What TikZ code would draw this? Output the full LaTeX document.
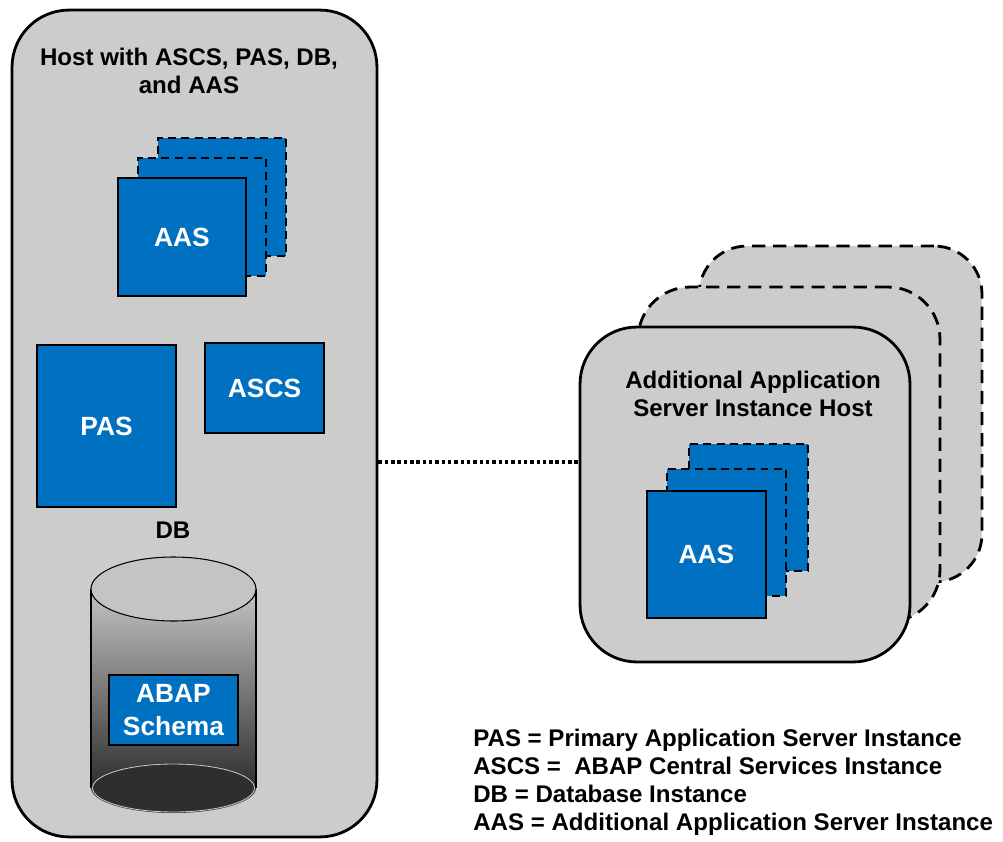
\documentclass[tikz,border=0pt]{standalone}
\usepackage{fontspec}
\setmainfont{Liberation Sans}
\usepackage{tikz}
\usetikzlibrary{positioning,calc}
\definecolor{sapblue}{HTML}{0070C0}
\definecolor{hostgrey}{HTML}{CCCCCC}
\definecolor{dbtop}{HTML}{C4C4C4}
\definecolor{dbdark}{HTML}{2E2E2E}

\begin{document}
\begin{tikzpicture}[x=0.02cm, y=-0.02cm,
    hostbox/.style={draw, fill=hostgrey, line width=1.6pt, inner sep=0pt},
    hostdash/.style={hostbox, dash pattern=on 7.5pt off 4.5pt},
    instbox/.style={draw, fill=sapblue, line width=1.1pt, inner sep=0pt, text=white,
        font=\fontsize{15}{18.5}\selectfont\bfseries, align=center},
    instdash/.style={instbox, dash pattern=on 4.5pt off 3pt},
    captext/.style={font=\fontsize{13.7}{16}\selectfont\bfseries, align=center, inner sep=0pt},
    linkline/.style={line width=2.2pt, dash pattern=on 2pt off 1.6pt}]
    \useasboundingbox (0,0) rectangle (1003,841);

    % Host with ASCS, PAS, DB and AAS
    \node[hostbox, rounded corners=1.14cm, minimum width=7.3cm, minimum height=16.54cm] (mainHost) at (194.5,423.5) {};
    \node[captext] (mainTitle) at (189,71) {Host with ASCS, PAS, DB,\\and AAS};

    % AAS stack
    \node[instdash, minimum width=2.56cm, minimum height=2.36cm] (aasBackL) at (222,197) {};
    \node[instdash, minimum width=2.56cm, minimum height=2.36cm] (aasMidL) at (202,217) {};
    \node[instbox, minimum width=2.56cm, minimum height=2.36cm] (aasL) at (182,237) {AAS};

    % PAS and ASCS
    \node[instbox, minimum width=2.78cm, minimum height=3.24cm] (pas) at (106.5,426) {PAS};
    \node[instbox, minimum width=2.38cm, minimum height=1.8cm] (ascs) at (264.5,388) {ASCS};

    % Database
    \node[captext] (dbLabel) at (173,530) {DB};
    \shade[top color=dbtop, bottom color=dbdark] (91,589) rectangle (256,788);
    \fill[dbdark] (173.5,788) ellipse [x radius=82.5, y radius=25];
    \draw[gray!45, line width=0.5pt] (173.5,788) ellipse [x radius=81, y radius=24];
    \draw[line width=0.6pt] (91,589) -- (91,788) (256,589) -- (256,788);
    \draw[fill=dbtop, line width=0.6pt] (173.5,589) ellipse [x radius=82.5, y radius=32];
    \node[instbox, minimum width=2.58cm, minimum height=1.4cm] (abap) at (173.5,710) {ABAP\\Schema};

    % Additional application server hosts
    \node[hostdash, rounded corners=0.96cm, minimum width=5.66cm, minimum height=6.72cm] (aasHostBack) at (840.5,414) {};
    \node[hostdash, rounded corners=1.04cm, minimum width=6.04cm, minimum height=6.7cm] (aasHostMid) at (789,454.5) {};
    \node[hostbox, rounded corners=1.14cm, minimum width=6.6cm, minimum height=6.7cm] (aasHost) at (745,494.5) {};
    \node[captext] (aasHostTitle) at (753,393.5) {Additional Application\\Server Instance Host};

    \node[instdash, minimum width=2.38cm, minimum height=2.54cm] (aasBackR) at (748.5,507.5) {};
    \node[instdash, minimum width=2.38cm, minimum height=2.54cm] (aasMidR) at (726.5,532.5) {};
    \node[instbox, minimum width=2.38cm, minimum height=2.54cm] (aasR) at (706.5,554.5) {AAS};

    % Network link
    \draw[linkline] (mainHost.east |- 0,462) -- (aasHost.west |- 0,462);

    % Legend
    \node[captext, align=left, anchor=west] (legend) at (473,782.5) {PAS = Primary Application Server Instance\\ASCS = \ ABAP Central Services Instance\\DB = Database Instance\\AAS = Additional Application Server Instance};
\end{tikzpicture}
\end{document}
